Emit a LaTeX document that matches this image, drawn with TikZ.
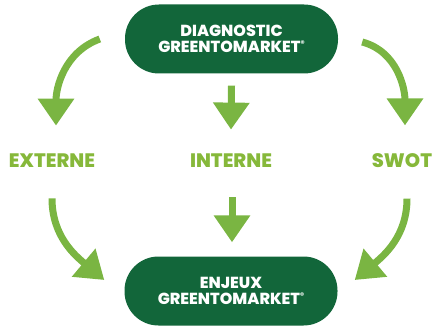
\documentclass[tikz,border=0pt]{standalone}
\usepackage{fontspec}
\setmainfont{Poppins}[BoldFont={Poppins ExtraBold}]
\usepackage{tikz}
\usetikzlibrary{arrows.meta}
\definecolor{darkgreen}{HTML}{12663A}
\definecolor{lightgreen}{HTML}{7AB542}
\definecolor{labelgreen}{HTML}{86B83A}

\begin{document}
\begin{tikzpicture}[x=1pt, y=1pt,
        pill/.style={rectangle, rounded corners=34pt, fill=darkgreen, text=white,
            minimum width=213pt, minimum height=69pt, align=center,
            font=\bfseries\fontsize{16}{15.5}\selectfont},
        steplabel/.style={text=labelgreen, font=\bfseries\fontsize{19.5}{21}\selectfont},
        flow/.style={lightgreen, line width=7pt, -{Triangle[width=35pt, length=27pt]}}]

        \useasboundingbox (0,0) rectangle (436,-326);

        % Draw top and bottom boxes
        \node[pill] (diag) at (231.5,-39) {DIAGNOSTIC\\GREENTOMARKET\raisebox{0.35em}{\fontsize{8}{8}\selectfont ®}};
        \node[pill] (enjeux) at (231,-291) {ENJEUX\\GREENTOMARKET\raisebox{0.35em}{\fontsize{8}{8}\selectfont ®}};

        % Draw the three labels
        \foreach \x/\name/\txt in {52/externe/EXTERNE, 231/interne/INTERNE, 402/swot/SWOT} {
            \node[steplabel] (\name) at (\x,-161) {\txt};
        }

        % Arrows from the diagnostic
        \draw[flow] ([xshift=-25pt]diag.west) to[out=200, in=90] ([xshift=4pt, yshift=25pt]externe.north);
        \draw[flow] ([yshift=-12pt]diag.south) -- ([yshift=21pt]interne.north);
        \draw[flow] ([xshift=24pt, yshift=-3pt]diag.east) to[out=-15, in=90] ([xshift=3pt, yshift=25pt]swot.north);

        % Arrows to the stakes
        \draw[flow] ([yshift=-27pt]externe.south) to[out=-90, in=140] ([xshift=-20pt, yshift=11pt]enjeux.west);
        \draw[flow] ([xshift=1pt, yshift=-26pt]interne.south) -- ([xshift=1pt, yshift=14pt]enjeux.north);
        \draw[flow] ([xshift=5pt, yshift=-27pt]swot.south) to[out=-90, in=40] ([xshift=17pt, yshift=11pt]enjeux.east);
    \end{tikzpicture}
\end{document}
